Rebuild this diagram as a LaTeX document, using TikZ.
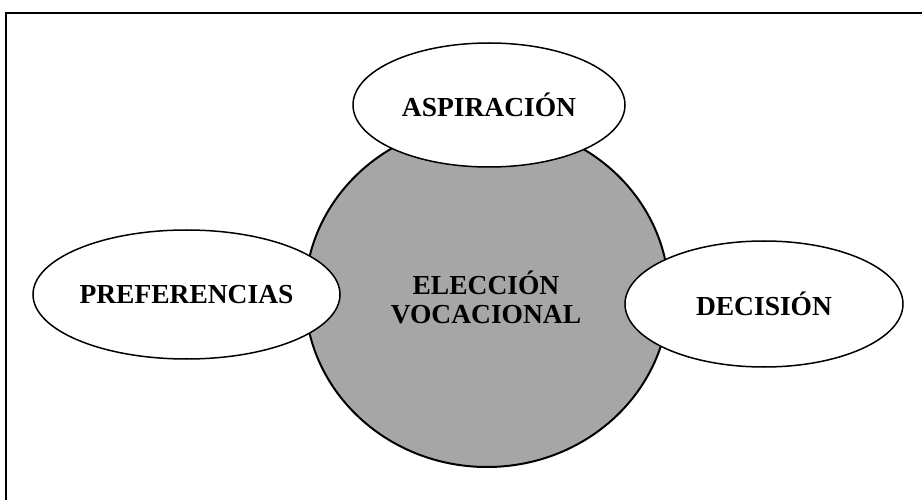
\documentclass[tikz,border=0pt]{standalone}
\usepackage{fontspec}
\setmainfont{Liberation Serif}
\usetikzlibrary{shapes.geometric}
\tikzset{
  lab/.style={font=\fontsize{27.5}{30}\selectfont\bfseries},
  bubble/.style={ellipse, draw=black, line width=1.5pt, fill=white, inner sep=0pt, lab},
  core/.style={ellipse, draw=black, line width=2pt, fill=black!35, inner sep=0pt, lab, align=center},
  frame/.style={line width=2pt, black}
}
\begin{document}
\begin{tikzpicture}[x=1pt,y=-1pt]
\useasboundingbox (0,0) rectangle (922,500);
\coordinate (fa) at (6,500);
\coordinate (fb) at (6,13);
\coordinate (fc) at (922,13);
\draw[frame] (fa) -- (fb) -- (fc);
\node[core, minimum width=364pt, minimum height=344pt] (elec) at (487,295) {};
\node[lab, align=center, inner sep=0pt] (electext) at (486,297) {ELECCIÓN\\[-1pt]VOCACIONAL};
\node[bubble, minimum width=272pt, minimum height=124pt] (asp) at (489,105) {ASPIRACIÓN};
\node[bubble, minimum width=307pt, minimum height=129pt] (pref) at (186.5,294.5) {PREFERENCIAS};
\node[bubble, minimum width=278pt, minimum height=126pt] (dec) at (764,304) {DECISIÓN};
\end{tikzpicture}
\end{document}
